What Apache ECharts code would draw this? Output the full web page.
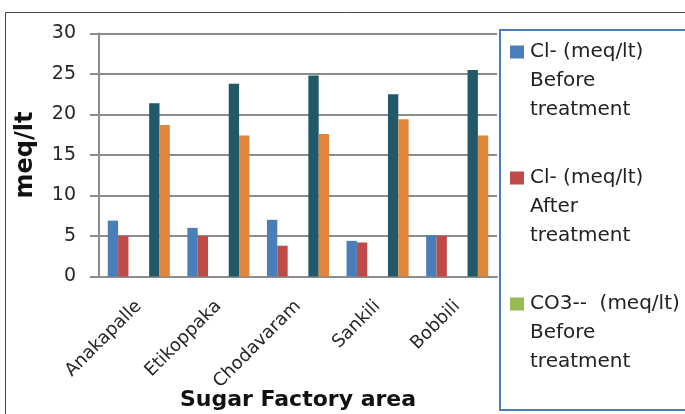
<!DOCTYPE html>
<html>
<head>
<meta charset="utf-8">
<script src="https://cdn.jsdelivr.net/npm/echarts@6/dist/echarts.min.js"></script>
<style>
  html, body { margin: 0; padding: 0; background: #fff; }
  #main { width: 685px; height: 414px; }
</style>
</head>
<body>
<div id="main"></div>
<script>
// sugar factory areas
var areas = ['Anakapalle', 'Etikoppaka', 'Chodavaram', 'Sankili', 'Bobbili']
var yTicks = [0, 5, 10, 15, 20, 25, 30]

var seriesNames = [
  'Cl- (meq/lt)\nBefore\ntreatment',
  'Cl- (meq/lt)\nAfter\ntreatment',
  'CO3--  (meq/lt)\nBefore\ntreatment',
  'CO3--  (meq/lt)\nAfter\ntreatment',
  'HCO3- (meq/lt)\nBefore\ntreatment',
  'HCO3- (meq/lt)\nAfter\ntreatment'
]
var clBefore = [6.9, 6.0, 7.0, 4.4, 5.1]
var clAfter = [5.0, 5.0, 3.8, 4.2, 5.0]
var co3Before = [0, 0, 0, 0, 0]
var co3After = [0, 0, 0, 0, 0]
var hco3Before = [21.4, 23.8, 24.8, 22.5, 25.5]
var hco3After = [18.7, 17.4, 17.6, 19.4, 17.4]
var legendShown = [0, 1, 2]   // only first three fit in the legend box

var colors = ['#4A7EBB', '#BE4B48', '#98B954', '#7D60A0', '#215968', '#E0863C']
var allData = [clBefore, clAfter, co3Before, co3After, hco3Before, hco3After]
var font = 'DejaVu Sans'

var chart = echarts.init(document.getElementById('main'))

var rich = {
  t: { fontFamily: font, fontSize: 20, lineHeight: 29, color: '#222' },
  p: { width: 20, height: 13, lineHeight: 29 }
}
colors.forEach(function (c, i) {
  rich['s' + i] = { width: 14, height: 13, backgroundColor: c, lineHeight: 29 }
  rich['g' + i] = { width: 6, height: 13, lineHeight: 29 }
})

var series = allData.map(function (d, i) {
  return {
    name: seriesNames[i],
    type: 'bar',
    data: d,
    barGap: '0%',
    barCategoryGap: '22%',
    itemStyle: { color: colors[i] }
  }
})

chart.setOption({
  animation: false,
  textStyle: { fontFamily: font },
  grid: { left: 99, right: 188, top: 33.5, bottom: 137.5, outerBoundsMode: 'none', containLabel: false },
  graphic: [{
    type: 'rect',
    z: -10,
    shape: { x: 5.5, y: 12.5, width: 800, height: 500 },
    style: { fill: 'none', stroke: '#444', lineWidth: 1 }
  }],
  legend: {
    orient: 'vertical',
    left: 500,
    top: 30,
    data: legendShown.map(function (i) { return seriesNames[i] }),
    icon: 'none',
    itemWidth: 0,
    itemHeight: 29,
    itemGap: 48,
    selectedMode: false,
    borderColor: '#4A7EBB',
    borderWidth: 2,
    padding: [12, 30, 38, 5],
    formatter: function (name) {
      var i = seriesNames.indexOf(name)
      var lines = name.split('\n')
      return '{s' + i + '|}{g' + i + '|}{t|' + lines[0] + '}\n{p|}{t|' + lines[1] + '}\n{p|}{t|' + lines[2] + '}'
    },
    textStyle: { rich: rich }
  },
  xAxis: {
    type: 'category',
    data: areas,
    name: 'Sugar Factory area',
    nameLocation: 'middle',
    nameGap: 113,
    nameMoveOverlap: false,
    nameTextStyle: { fontFamily: font, fontSize: 22, fontWeight: 'bold', color: '#111' },
    axisLine: { lineStyle: { color: '#8c8c8c', width: 2 } },
    axisTick: { show: false },
    axisLabel: { rotate: 45, fontSize: 18, color: '#262626', margin: 27, interval: 0 }
  },
  yAxis: {
    type: 'value',
    min: yTicks[0],
    max: yTicks[yTicks.length - 1],
    interval: yTicks[1] - yTicks[0],
    name: 'meq/lt',
    nameLocation: 'middle',
    nameGap: 61,
    nameRotate: 90,
    nameMoveOverlap: false,
    nameTextStyle: { fontFamily: font, fontSize: 24, fontWeight: 'bold', color: '#111' },
    axisLine: { show: true, lineStyle: { color: '#8c8c8c', width: 2 } },
    axisTick: { show: true, length: 9, lineStyle: { color: '#8c8c8c', width: 2 } },
    splitLine: { lineStyle: { color: '#8c8c8c', width: 2 } },
    axisLabel: { fontSize: 19, color: '#262626', margin: 23 }
  },
  series: series
})
</script>
</body>
</html>
